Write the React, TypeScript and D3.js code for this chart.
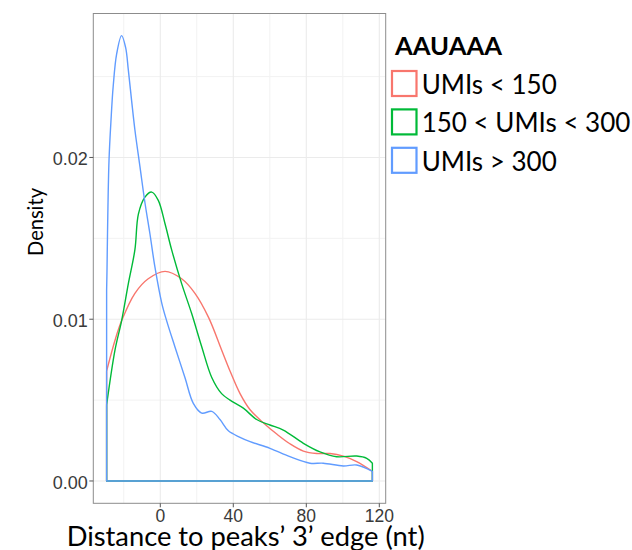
import * as d3 from 'd3';
import React from 'react';

// density curves (x in nt, y = density)
const redX = [-29.4, -24.8, -21.2, -13.9, -6.6, 2.6, 11.7, 19.0, 26.5, 33.6, 38.2, 43.7, 49.2, 56.4, 63.8, 71.0, 78.4, 85.7, 93.0, 100.3, 107.6, 116.2];
const redY = [0.0068, 0.0087, 0.0099, 0.0116, 0.0125, 0.01296, 0.0125, 0.0116, 0.0101, 0.0081, 0.0068, 0.0054, 0.0044, 0.0036, 0.0029, 0.0023, 0.00185, 0.0017, 0.0017, 0.00154, 0.0012, 0.0006];

const greenX = [-29.4, -24.8, -21.2, -17.5, -13.9, -12.0, -8.4, -4.7, -1.1, 2.6, 6.2, 11.7, 17.2, 22.7, 28.2, 33.6, 38.2, 45.5, 52.8, 60.1, 67.4, 78.4, 87.5, 96.6, 107.6, 113.1, 116.2];
const greenY = [0.0047, 0.0081, 0.0099, 0.0122, 0.0143, 0.0165, 0.01755, 0.01786, 0.01735, 0.0159, 0.0143, 0.0122, 0.01035, 0.0083, 0.0064, 0.0054, 0.0050, 0.0045, 0.0038, 0.00346, 0.00315, 0.00233, 0.0018, 0.0015, 0.00154, 0.0014, 0.0011];

const blueX = [-29.4, -29.2, -28.8, -28.1, -27.0, -25.8, -23.9, -21.2, -19.0, -17.5, -15.7, -13.9, -11.1, -8.4, -5.7, -2.9, 0.8, 3.5, 8.0, 13.5, 18.1, 22.7, 28.2, 32.7, 37.3, 43.7, 49.2, 60.1, 71.0, 82.0, 89.3, 100.3, 107.6, 116.2];
const blueY = [0.0118, 0.0130, 0.0161, 0.0198, 0.0223, 0.0244, 0.0264, 0.02753, 0.0268, 0.0254, 0.0235, 0.0217, 0.0194, 0.0172, 0.0153, 0.0132, 0.0110, 0.0099, 0.0083, 0.0064, 0.0048, 0.0042, 0.0043, 0.0038, 0.0031, 0.0027, 0.00243, 0.00202, 0.0015, 0.0011, 0.0011, 0.00093, 0.00099, 0.0006];

const seriesNames = ['UMIs < 150', '150 < UMIs < 300', 'UMIs > 300'];
const seriesColors = ['#F8766D', '#00BA38', '#619CFF'];
const xTicks = [0, 40, 80, 120];
const xMinor = [-20, 20, 60, 100];
const yTicks = [0, 0.01, 0.02];
const yMinor = [0.005, 0.015, 0.025];

const W = 632, H = 550;
const left = 93.3, right = 385.7, top = 13.5, bottom = 503.3;

export default function App() {
  const x = d3.scaleLinear().domain([-36.7, 123.5]).range([left, right]);
  const y = d3.scaleLinear().domain([-0.00138, 0.0289]).range([bottom, top]);

  const series = [
    { xs: redX, ys: redY },
    { xs: greenX, ys: greenY },
    { xs: blueX, ys: blueY },
  ];

  const curve = d3.line<[number, number]>()
    .x(d => x(d[0]))
    .y(d => y(d[1]))
    .curve(d3.curveCatmullRom.alpha(0.5));

  // closed outline like geom_density: baseline, left edge, curve, right edge
  const polyPath = (xs: number[], ys: number[]) => {
    const pts: [number, number][] = xs.map((v, i) => [v, ys[i]]);
    const body = curve(pts) || '';
    const x0 = x(xs[0]), x1 = x(xs[xs.length - 1]), y0 = y(0);
    return `M${x0},${y0}L${x0},${y(ys[0])}` + body.replace(/^M/, 'L') + `L${x1},${y0}Z`;
  };

  const tickFont = '"Liberation Sans", Arial, sans-serif';
  const labFont = 'Lato, "Open Sans", sans-serif';

  return (
    <svg width={W} height={H} style={{ position: 'absolute', left: 0, top: 0, background: '#fff' }}>
      <rect x={0} y={0} width={W} height={H} fill="#fff" />
      {/* grid */}
      {xMinor.map(t => (
        <line key={'xm' + t} x1={x(t)} x2={x(t)} y1={top} y2={bottom} stroke="#f2f2f2" strokeWidth={1} />
      ))}
      {yMinor.map(t => (
        <line key={'ym' + t} x1={left} x2={right} y1={y(t)} y2={y(t)} stroke="#f2f2f2" strokeWidth={1} />
      ))}
      {xTicks.map(t => (
        <line key={'xg' + t} x1={x(t)} x2={x(t)} y1={top} y2={bottom} stroke="#ebebeb" strokeWidth={1.1} />
      ))}
      {yTicks.map(t => (
        <line key={'yg' + t} x1={left} x2={right} y1={y(t)} y2={y(t)} stroke="#ebebeb" strokeWidth={1.1} />
      ))}

      {/* density outlines */}
      {series.map((s, i) => (
        <path key={i} d={polyPath(s.xs, s.ys)} fill="none" stroke={seriesColors[i]} strokeWidth={1.4} strokeLinejoin="round" />
      ))}

      {/* panel border */}
      <rect x={left} y={top} width={right - left} height={bottom - top} fill="none" stroke="#8c8c8c" strokeWidth={1} />

      {/* y axis */}
      {yTicks.map(t => (
        <g key={'yt' + t}>
          <line x1={left - 4} x2={left} y1={y(t)} y2={y(t)} stroke="#555" strokeWidth={1} />
          <text x={left - 5.5} y={y(t) + 8} textAnchor="end" fontFamily={tickFont} fontSize={18} fill="#3a3a3a">
            {t.toFixed(2)}
          </text>
        </g>
      ))}
      {/* x axis */}
      {xTicks.map(t => (
        <g key={'xt' + t}>
          <line x1={x(t)} x2={x(t)} y1={bottom} y2={bottom + 4} stroke="#555" strokeWidth={1} />
          <text x={x(t)} y={521.5} textAnchor="middle" fontFamily={tickFont} fontSize={17.5} fill="#3a3a3a">
            {t}
          </text>
        </g>
      ))}

      <text x={66.7} y={545.5} fontFamily={labFont} fontSize={26} textLength={358} lengthAdjust="spacingAndGlyphs" fill="#000">
        Distance to peaks’ 3’ edge (nt)
      </text>
      <text transform="translate(43,222) rotate(-90)" textAnchor="middle" fontFamily={labFont} fontSize={22} textLength={68} lengthAdjust="spacingAndGlyphs" fill="#000">
        Density
      </text>

      {/* legend */}
      <text x={395} y={55} fontFamily={labFont} fontSize={24} fontWeight="bold" textLength={107} lengthAdjust="spacingAndGlyphs" fill="#000">
        AAUAAA
      </text>
      {seriesNames.map((n, i) => (
        <g key={n} transform={`translate(0,${i * 38.4})`}>
          <rect x={392} y={71} width={24.5} height={25} fill="#fff" stroke={seriesColors[i]} strokeWidth={2.2} />
          <text x={421.7} y={94} fontFamily={labFont} fontSize={26} fill="#000">
            {n}
          </text>
        </g>
      ))}
    </svg>
  );
}
